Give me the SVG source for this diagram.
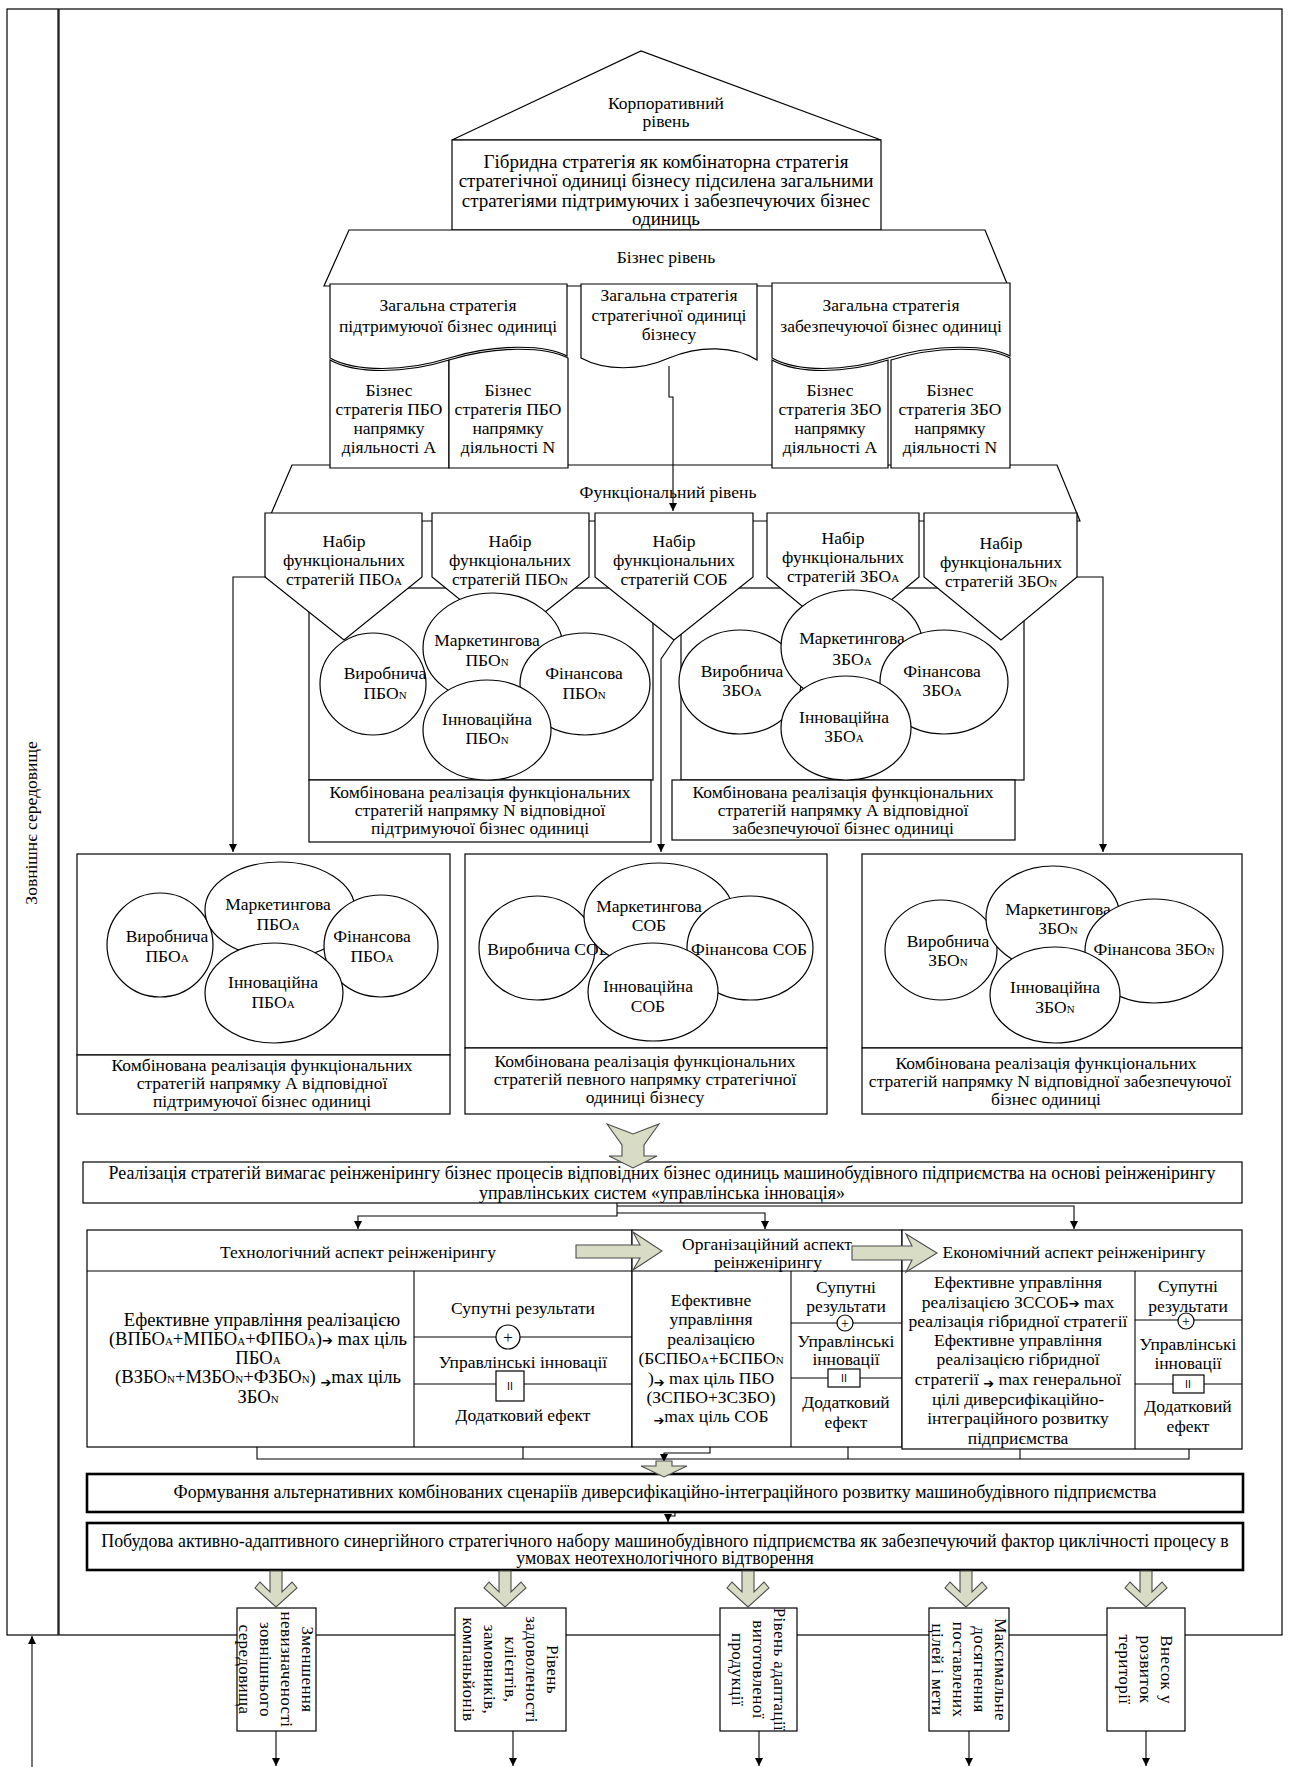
<svg xmlns="http://www.w3.org/2000/svg" width="1293" height="1767" viewBox="0 0 1293 1767">
<defs>
<style>
text{font-family:"Liberation Serif","Times New Roman",serif;font-size:17.5px;text-anchor:middle;fill:#000}
.box{fill:#fff;stroke:#000;stroke-width:1.2}
.thick{fill:#fff;stroke:#000;stroke-width:2.6}
.ln{fill:none;stroke:#000;stroke-width:1.1}
.blk{fill:#d8dcc5;stroke:#4d4d4d;stroke-width:1.1}
.sc{font-size:11px}
.ar{font-family:"DejaVu Sans",sans-serif;font-size:13px}
.lbl{font-size:17.5px}
.big{font-size:19px}
.wide{font-size:17.9px}
.tm{font-size:18.6px}
.vt{font-size:17px;letter-spacing:0.4px}
</style>
<marker id="ah" viewBox="0 0 10 10" refX="10" refY="5" markerWidth="8" markerHeight="8" markerUnits="userSpaceOnUse" orient="auto"><path d="M0,0 L10,5 L0,10 Z" fill="#000"/></marker>
</defs>
<rect width="1293" height="1767" fill="#fff"/>

<!-- outer environment bar and enterprise frame -->
<g id="environment"><rect class="box" x="7" y="9" width="51" height="1626"/><text transform="translate(37,823) rotate(-90)">Зовнішнє середовище</text></g>
<rect id="frame" class="box" x="59" y="9" width="1223" height="1626"/>

<!-- corporate level -->
<g id="corporate-level"><polygon class="box" points="452,140 641,51 881,140"/><text x="666" y="109">Корпоративний</text><text x="666" y="127">рівень</text></g>
<g id="hybrid-strategy"><rect class="box" x="452" y="140" width="429" height="90"/>
<text class="big" x="666" y="168">Гібридна стратегія як комбінаторна стратегія</text>
<text class="big" x="666" y="187">стратегічної одиниці бізнесу підсилена загальними</text>
<text class="big" x="666" y="207">стратегіями підтримуючих і забезпечуючих бізнес</text>
<text class="big" x="666" y="225">одиниць</text></g>

<!-- business level roof -->
<g id="business-level"><polygon class="box" points="349,230 985,230 1008,286 324,286"/><text x="666" y="263">Бізнес рівень</text></g>
<!-- functional level roof -->
<g id="functional-level"><polygon class="box" points="292,465 1057,465 1080,521 268,521"/><text x="668" y="498">Функціональний рівень</text></g>

<!-- business strategies -->
<g id="pbo-general"><path class="box" d="M330,284 H567 V356 C545,344 495,344 449,358 C405,372 355,372 330,358 Z"/>
<text x="448" y="311">Загальна стратегія</text><text x="448" y="332">підтримуючої бізнес одиниці</text></g>
<g id="pbo-a"><path class="box" d="M330,360 C355,374 405,374 449,360 V468 H330 Z"/>
<text x="389" y="396">Бізнес</text><text x="389" y="415">стратегія ПБО</text><text x="389" y="434">напрямку</text><text x="389" y="453">діяльності А</text></g>
<g id="pbo-n"><path class="box" d="M449,360 C495,346 545,346 568,358 V468 H449 Z"/>
<text x="508" y="396">Бізнес</text><text x="508" y="415">стратегія ПБО</text><text x="508" y="434">напрямку</text><text x="508" y="453">діяльності N</text></g>
<g id="sob-general"><path class="box" d="M581,284 H757 V360 C735,346 700,345 669,358 C640,371 605,371 581,358 Z"/>
<text x="669" y="301">Загальна стратегія</text><text x="669" y="321">стратегічної одиниці</text><text x="669" y="340">бізнесу</text></g>
<g id="zbo-general"><path class="box" d="M772,283 H1010 V356 C988,344 935,344 888,358 C845,372 797,372 772,358 Z"/>
<text x="891" y="311">Загальна стратегія</text><text x="891" y="332">забезпечуючої бізнес одиниці</text></g>
<g id="zbo-a"><path class="box" d="M772,360 C797,374 845,374 888,360 V468 H772 Z"/>
<text x="830" y="396">Бізнес</text><text x="830" y="415">стратегія ЗБО</text><text x="830" y="434">напрямку</text><text x="830" y="453">діяльності А</text></g>
<g id="zbo-n"><path class="box" d="M891,360 C935,346 988,346 1010,358 V468 H891 Z"/>
<text x="950" y="396">Бізнес</text><text x="950" y="415">стратегія ЗБО</text><text x="950" y="434">напрямку</text><text x="950" y="453">діяльності N</text></g>

<!-- combined functional blocks (middle row frames) -->
<g id="combo-pbo-n-frame"><rect class="box" x="309" y="588" width="344" height="192"/><rect class="box" x="309" y="780" width="342" height="62"/>
<text class="lbl" x="480" y="798">Комбінована реалізація функціональних</text><text class="lbl" x="480" y="816">стратегій напрямку N відповідної</text><text class="lbl" x="480" y="834">підтримуючої бізнес одиниці</text></g>
<g id="combo-zbo-a-frame"><rect class="box" x="681" y="588" width="343" height="192"/><rect class="box" x="672" y="780" width="343" height="60"/>
<text class="lbl" x="843" y="798">Комбінована реалізація функціональних</text><text class="lbl" x="843" y="816">стратегій  напрямку А відповідної</text><text class="lbl" x="843" y="834">забезпечуючої бізнес одиниці</text></g>

<!-- functional strategy sets -->
<g id="set-pbo-a"><polygon class="box" points="265,513 422,513 422,577 344,640 265,577"/><text x="344" y="547">Набір</text><text x="344" y="566">функціональних</text><text x="344" y="585">стратегій ПБО<tspan class="sc">A</tspan></text></g>
<g id="set-pbo-n"><polygon class="box" points="432,513 589,513 589,577 510,640 432,577"/><text x="510" y="547">Набір</text><text x="510" y="566">функціональних</text><text x="510" y="585">стратегій ПБО<tspan class="sc">N</tspan></text></g>
<g id="set-sob"><polygon class="box" points="595,513 753,513 753,577 674,640 595,577"/><text x="674" y="547">Набір</text><text x="674" y="566">функціональних</text><text x="674" y="585">стратегій СОБ</text></g>
<g id="set-zbo-a"><polygon class="box" points="767,513 919,513 919,577 843,640 767,577"/><text x="843" y="544">Набір</text><text x="843" y="563">функціональних</text><text x="843" y="582">стратегій ЗБО<tspan class="sc">A</tspan></text></g>
<g id="set-zbo-n"><polygon class="box" points="924,513 1077,513 1077,577 1001,640 924,577"/><text x="1001" y="549">Набір</text><text x="1001" y="568">функціональних</text><text x="1001" y="587">стратегій ЗБО<tspan class="sc">N</tspan></text></g>

<!-- middle row strategy circles -->
<g id="circles-pbo-n">
<ellipse class="box" cx="373" cy="684" rx="53" ry="51"/><text x="385" y="679">Виробнича</text><text x="385" y="699">ПБО<tspan class="sc">N</tspan></text>
<ellipse class="box" cx="493" cy="648" rx="70" ry="55"/><text x="487" y="646">Маркетингова</text><text x="487" y="666">ПБО<tspan class="sc">N</tspan></text>
<ellipse class="box" cx="585" cy="684" rx="65" ry="51"/><text x="584" y="679">Фінансова</text><text x="584" y="699">ПБО<tspan class="sc">N</tspan></text>
<ellipse class="box" cx="487" cy="730" rx="64" ry="50"/><text x="487" y="725">Інноваційна</text><text x="487" y="744">ПБО<tspan class="sc">N</tspan></text>
</g>
<g id="circles-zbo-a">
<ellipse class="box" cx="740" cy="682" rx="61" ry="52"/><text x="742" y="677">Виробнича</text><text x="742" y="696">ЗБО<tspan class="sc">A</tspan></text>
<ellipse class="box" cx="852" cy="647" rx="71" ry="57"/><text x="852" y="644">Маркетингова</text><text x="852" y="665">ЗБО<tspan class="sc">A</tspan></text>
<ellipse class="box" cx="944" cy="682" rx="64" ry="52"/><text x="942" y="677">Фінансова</text><text x="942" y="696">ЗБО<tspan class="sc">A</tspan></text>
<ellipse class="box" cx="846" cy="728" rx="65" ry="52"/><text x="844" y="723">Інноваційна</text><text x="844" y="742">ЗБО<tspan class="sc">A</tspan></text>
</g>

<!-- bottom row combined blocks -->
<g id="combo-pbo-a"><rect class="box" x="77" y="854" width="373" height="201"/><rect class="box" x="77" y="1055" width="373" height="59"/>
<ellipse class="box" cx="160" cy="945" rx="53" ry="52"/><text x="167" y="942">Виробнича</text><text x="167" y="962">ПБО<tspan class="sc">A</tspan></text>
<ellipse class="box" cx="280" cy="910" rx="75" ry="48"/><text x="278" y="910">Маркетингова</text><text x="278" y="930">ПБО<tspan class="sc">A</tspan></text>
<ellipse class="box" cx="381" cy="946" rx="57" ry="51"/><text x="372" y="942">Фінансова</text><text x="372" y="962">ПБО<tspan class="sc">A</tspan></text>
<ellipse class="box" cx="274" cy="993" rx="69" ry="50"/><text x="273" y="988">Інноваційна</text><text x="273" y="1008">ПБО<tspan class="sc">A</tspan></text>
<text class="lbl" x="262" y="1071">Комбінована реалізація функціональних</text><text class="lbl" x="262" y="1089">стратегій напрямку А відповідної</text><text class="lbl" x="262" y="1107">підтримуючої бізнес одиниці</text></g>
<g id="combo-sob"><rect class="box" x="465" y="854" width="362" height="194"/><rect class="box" x="465" y="1048" width="362" height="66"/>
<ellipse class="box" cx="537" cy="948" rx="58" ry="52"/><text x="548" y="955">Виробнича СОБ</text>
<ellipse class="box" cx="659" cy="916" rx="75" ry="53"/><text x="649" y="912">Маркетингова</text><text x="649" y="931">СОБ</text>
<ellipse class="box" cx="750" cy="948" rx="63" ry="52"/><text x="749" y="955">Фінансова СОБ</text>
<ellipse class="box" cx="653" cy="992" rx="65" ry="49"/><text x="648" y="992">Інноваційна</text><text x="648" y="1012">СОБ</text>
<text class="lbl" x="645" y="1067">Комбінована реалізація функціональних</text><text class="lbl" x="645" y="1085">стратегій певного напрямку стратегічної</text><text class="lbl" x="645" y="1103">одиниці бізнесу</text></g>
<g id="combo-zbo-n"><rect class="box" x="862" y="854" width="380" height="194"/><rect class="box" x="862" y="1048" width="380" height="66"/>
<ellipse class="box" cx="941" cy="950" rx="56" ry="50"/><text x="948" y="947">Виробнича</text><text x="948" y="966">ЗБО<tspan class="sc">N</tspan></text>
<ellipse class="box" cx="1053" cy="918" rx="67" ry="52"/><text x="1058" y="915">Маркетингова</text><text x="1058" y="934">ЗБО<tspan class="sc">N</tspan></text>
<ellipse class="box" cx="1154" cy="951" rx="69" ry="52"/><text x="1154" y="955">Фінансова ЗБО<tspan class="sc">N</tspan></text>
<ellipse class="box" cx="1055" cy="995" rx="65" ry="48"/><text x="1055" y="993">Інноваційна</text><text x="1055" y="1013">ЗБО<tspan class="sc">N</tspan></text>
<text class="lbl" x="1046" y="1069">Комбінована реалізація функціональних</text><text class="lbl" x="1050" y="1087">стратегій напрямку N відповідної забезпечуючої</text><text class="lbl" x="1046" y="1105">бізнес одиниці</text></g>

<!-- reengineering requirement -->
<g id="reengineering"><rect class="box" x="83" y="1162" width="1159" height="41"/>
<text class="wide" x="662" y="1179">Реалізація стратегій вимагає реінженірингу бізнес процесів відповідних бізнес одиниць машинобудівного підприємства на основі реінженірингу</text>
<text class="wide" x="662" y="1199">управлінських систем «управлінська інновація»</text></g>

<!-- reengineering aspects table -->
<g id="aspect-technological"><rect class="box" x="87" y="1230" width="545" height="217"/><line class="ln" x1="87" y1="1271" x2="632" y2="1271"/><line class="ln" x1="414" y1="1271" x2="414" y2="1447"/>
<line class="ln" x1="414" y1="1337" x2="632" y2="1337"/><line class="ln" x1="414" y1="1384" x2="632" y2="1384"/>
<text x="358" y="1258">Технологічний аспект реінженірингу</text>
<text class="tm" x="262" y="1326">Ефективне управління реалізацією</text>
<text class="tm" x="258" y="1345">(ВПБО<tspan class="sc">A</tspan>+МПБО<tspan class="sc">A</tspan>+ФПБО<tspan class="sc">A</tspan>)<tspan class="ar">➔</tspan> max ціль</text>
<text class="tm" x="258" y="1364">ПБО<tspan class="sc">A</tspan></text>
<text class="tm" x="258" y="1383">(ВЗБО<tspan class="sc">N</tspan>+МЗБО<tspan class="sc">N</tspan>+ФЗБО<tspan class="sc">N</tspan>) <tspan class="ar" dy="4">➔</tspan><tspan dy="-4">max ціль</tspan></text>
<text class="tm" x="258" y="1403">ЗБО<tspan class="sc">N</tspan></text>
<text x="523" y="1314">Супутні результати</text><text x="523" y="1368">Управлінські інновації</text><text x="523" y="1421">Додатковий ефект</text>
<circle class="box" cx="508" cy="1337" r="12"/><text x="508" y="1343">+</text>
<rect class="box" x="496" y="1371" width="28" height="30"/><text x="510" y="1390" style="font-family:'DejaVu Sans',sans-serif;font-size:10px">II</text></g>

<g id="aspect-organizational"><rect class="box" x="632" y="1230" width="270" height="217"/><line class="ln" x1="632" y1="1271" x2="902" y2="1271"/><line class="ln" x1="791" y1="1271" x2="791" y2="1447"/>
<line class="ln" x1="791" y1="1323" x2="902" y2="1323"/><line class="ln" x1="791" y1="1378" x2="902" y2="1378"/>
<text x="767" y="1250">Організаційний аспект</text><text x="768" y="1268">реінженірингу</text>
<text x="711" y="1306">Ефективне</text><text x="711" y="1325">управління</text><text x="711" y="1345">реалізацією</text>
<text x="711" y="1364">(БСПБО<tspan class="sc">A</tspan>+БСПБО<tspan class="sc">N</tspan></text>
<text x="711" y="1384">)<tspan class="ar" dy="3">➔</tspan><tspan dy="-3"> max ціль ПБО</tspan></text>
<text x="711" y="1403">(ЗСПБО+ЗСЗБО)</text>
<text x="711" y="1422"><tspan class="ar" dy="3">➔</tspan><tspan dy="-3">max ціль СОБ</tspan></text>
<text x="846" y="1293">Супутні</text><text x="846" y="1312">результати</text>
<text x="846" y="1347">Управлінські</text><text x="846" y="1365">інновації</text>
<text x="846" y="1408">Додатковий</text><text x="846" y="1428">ефект</text>
<circle class="box" cx="845" cy="1323" r="8"/><text x="845" y="1328" style="font-size:14px">+</text>
<rect class="box" x="828" y="1369" width="32" height="18"/><text x="844" y="1382" style="font-family:'DejaVu Sans',sans-serif;font-size:10px">II</text></g>

<g id="aspect-economic"><rect class="box" x="902" y="1230" width="340" height="219"/><line class="ln" x1="902" y1="1271" x2="1242" y2="1271"/><line class="ln" x1="1135" y1="1271" x2="1135" y2="1449"/>
<line class="ln" x1="1135" y1="1320" x2="1242" y2="1320"/><line class="ln" x1="1135" y1="1384" x2="1242" y2="1384"/>
<text x="1074" y="1258">Економічний аспект реінженірингу</text>
<text x="1018" y="1288">Ефективне управління</text>
<text x="1018" y="1308">реалізацією ЗССОБ<tspan class="ar">➔</tspan> max</text>
<text x="1018" y="1327">реалізація гібридної стратегії</text>
<text x="1018" y="1346">Ефективне управління</text>
<text x="1018" y="1365">реалізацією гібридної</text>
<text x="1018" y="1385">стратегії  <tspan class="ar" dy="3">➔</tspan><tspan dy="-3"> max генеральної</tspan></text>
<text x="1018" y="1405">цілі диверсифікаційно-</text>
<text x="1018" y="1424">інтеграційного розвитку</text>
<text x="1018" y="1444">підприємства</text>
<text x="1188" y="1292">Супутні</text><text x="1188" y="1312">результати</text>
<text x="1188" y="1350">Управлінські</text><text x="1188" y="1369">інновації</text>
<text x="1188" y="1412">Додатковий</text><text x="1188" y="1432">ефект</text>
<circle class="box" cx="1186" cy="1321" r="8"/><text x="1186" y="1326" style="font-size:14px">+</text>
<rect class="box" x="1173" y="1375" width="31" height="18"/><text x="1188" y="1388" style="font-family:'DejaVu Sans',sans-serif;font-size:10px">II</text></g>

<!-- scenario formation and strategic set -->
<g id="scenarios"><rect class="thick" x="87" y="1474" width="1156" height="38"/>
<text class="wide" x="665" y="1498">Формування альтернативних комбінованих  сценаріїв диверсифікаційно-інтеграційного розвитку машинобудівного підприємства</text></g>
<g id="strategic-set"><rect class="thick" x="87" y="1523" width="1156" height="47"/>
<text class="wide" x="665" y="1547">Побудова активно-адаптивного синергійного стратегічного набору машинобудівного підприємства як забезпечуючий фактор циклічності процесу в</text>
<text class="wide" x="665" y="1564">умовах неотехнологічного відтворення</text></g>

<!-- result indicators -->
<g id="result-uncertainty"><rect class="box" x="237" y="1608" width="79" height="123"/>
<text class="vt" transform="translate(276.5,1669.5) rotate(90)"><tspan x="0" y="-25.5">Зменшення</tspan><tspan x="0" y="-4.5">невизначеності</tspan><tspan x="0" y="16.5">зовнішнього</tspan><tspan x="0" y="37.5">середовища</tspan></text></g>
<g id="result-satisfaction"><rect class="box" x="455" y="1608" width="111" height="123"/>
<text class="vt" transform="translate(510.5,1669.5) rotate(90)"><tspan x="0" y="-36">Рівень</tspan><tspan x="0" y="-15">задоволеності</tspan><tspan x="0" y="6">клієнтів,</tspan><tspan x="0" y="27">замовників,</tspan><tspan x="0" y="48">компаньйонів</tspan></text></g>
<g id="result-adaptation"><rect class="box" x="720" y="1608" width="77" height="123"/>
<text class="vt" transform="translate(758.5,1669.5) rotate(90)"><tspan x="0" y="-15">Рівень адаптації</tspan><tspan x="0" y="6">виготовленої</tspan><tspan x="0" y="27">продукції</tspan></text></g>
<g id="result-goals"><rect class="box" x="929" y="1608" width="80" height="123"/>
<text class="vt" transform="translate(969,1669.5) rotate(90)"><tspan x="0" y="-25.5">Максимальне</tspan><tspan x="0" y="-4.5">досягнення</tspan><tspan x="0" y="16.5">поставлених</tspan><tspan x="0" y="37.5">цілей і мети</tspan></text></g>
<g id="result-territory"><rect class="box" x="1107" y="1608" width="78" height="123"/>
<text class="vt" transform="translate(1146,1669.5) rotate(90)"><tspan x="0" y="-15">Внесок у</tspan><tspan x="0" y="6">розвиток</tspan><tspan x="0" y="27">території</tspan></text></g>

<!-- connectors -->
<g id="connectors">
<path class="ln" d="M669,366 V397 H673 V511" marker-end="url(#ah)"/>
<path class="ln" d="M266,577 H233 V852" marker-end="url(#ah)"/>
<path class="ln" d="M674,640 L661,659 V852" marker-end="url(#ah)"/>
<path class="ln" d="M1077,577 H1103 V852" marker-end="url(#ah)"/>
<path class="ln" d="M617,1203 V1216 H358 V1229" marker-end="url(#ah)"/>
<path class="ln" d="M617,1213 H765 V1229" marker-end="url(#ah)"/>
<path class="ln" d="M617,1206 H1074 V1229" marker-end="url(#ah)"/>
<path class="ln" d="M257,1447 V1459 H1189 V1449 M523,1447 V1459 M848,1447 V1459 M1020,1449 V1459"/>
<path class="ln" d="M710,1447 V1453 H664 V1462" marker-end="url(#ah)"/>
<path class="ln" d="M675,1512 V1516 H668 V1522" marker-end="url(#ah)"/>
<path class="ln" d="M276,1731 V1766" marker-end="url(#ah)"/>
<path class="ln" d="M513,1731 V1766" marker-end="url(#ah)"/>
<path class="ln" d="M759,1731 V1766" marker-end="url(#ah)"/>
<path class="ln" d="M969,1731 V1766" marker-end="url(#ah)"/>
<path class="ln" d="M1146,1731 V1766" marker-end="url(#ah)"/>
<path class="ln" d="M32,1767 V1636" marker-end="url(#ah)"/>
<!-- block arrows -->
<polygon class="blk" points="607,1124 633,1134 659,1124 644,1145 644,1156 657,1156 633,1168 609,1156 622,1156 622,1145"/>
<polygon class="blk" points="576,1245 640,1245 633,1232 662,1251 633,1270 640,1258 576,1258"/>
<polygon class="blk" points="852,1246 912,1246 906,1234 937,1253 906,1272 912,1260 852,1260"/>
<polygon class="blk" points="656,1461 672,1461 672,1466 687,1466 664,1477 641,1466 656,1466"/>
<polygon class="blk" points="270,1571 282,1571 282,1592 292,1582 297,1588 276,1607 255,1588 260,1582 270,1592"/>
<polygon class="blk" points="499,1571 511,1571 511,1592 521,1582 526,1588 505,1607 484,1588 489,1582 499,1592"/>
<polygon class="blk" points="742,1571 754,1571 754,1592 764,1582 769,1588 748,1607 727,1588 732,1582 742,1592"/>
<polygon class="blk" points="960,1571 972,1571 972,1592 982,1582 987,1588 966,1607 945,1588 950,1582 960,1592"/>
<polygon class="blk" points="1140,1571 1152,1571 1152,1592 1162,1582 1167,1588 1146,1607 1125,1588 1130,1582 1140,1592"/>
</g>
</svg>
